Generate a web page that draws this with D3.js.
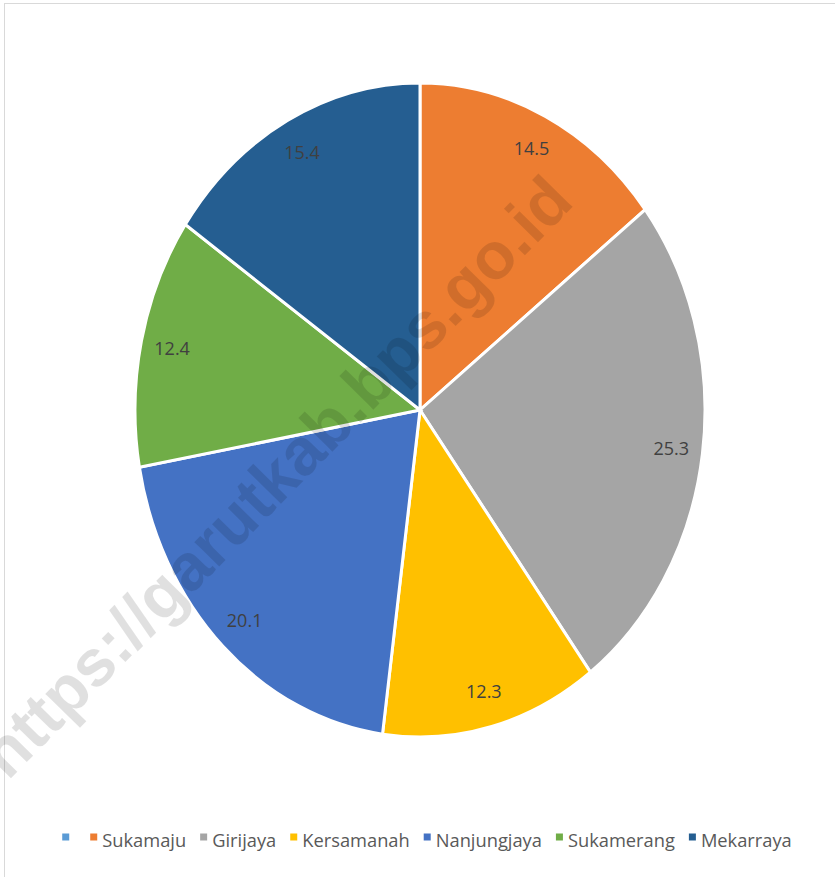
<!DOCTYPE html>
<html>
<head>
<meta charset="utf-8">
<script src="https://cdn.jsdelivr.net/npm/d3@7"></script>
<style>
  body { margin: 0; background: #fff; }
  text { font-family: 'Open Sans', 'Noto Sans', sans-serif; }
</style>
</head>
<body>
<script>
const w = 835
const h = 877

const categories = ['Sukamaju', 'Girijaya', 'Kersamanah', 'Nanjungjaya', 'Sukamerang', 'Mekarraya']
const values = [14.5, 25.3, 12.3, 20.1, 12.4, 15.4]
const colors = ['#ED7D31', '#A5A5A5', '#FFC000', '#4472C4', '#70AD47', '#255E91']

// legend has an empty first entry in the original
const legendLabels = [''].concat(categories)
const legendColors = ['#5B9BD5'].concat(colors)

const cx = 420
const cy = 410
const rx = 285
const ry = 327

const svg = d3.select('body').append('svg')
    .attr('width', w)
    .attr('height', h)

// chart frame
svg.append('rect')
    .attr('x', 4.5)
    .attr('y', 3.5)
    .attr('width', w + 10)
    .attr('height', h + 10)
    .style('fill', 'none')
    .style('stroke', '#d9d9d9')
    .style('stroke-width', 1)

const data = categories.map(function (c, i) {
    return {name: c, value: values[i], color: colors[i]}
})

const pie = d3.pie()
    .sort(null)
    .value(function (d) {return d.value})

const arc = d3.arc()
    .innerRadius(0)
    .outerRadius(rx)

const arcs = pie(data)

const pieG = svg.append('g')
    .attr('transform', 'translate(' + cx + ',' + cy + ') scale(1,' + (ry / rx) + ')')

pieG.selectAll('path')
    .data(arcs)
    .enter()
    .append('path')
    .attr('d', arc)
    .style('fill', function (d) {return d.data.color})
    .style('stroke', '#fff')
    .style('stroke-width', 3)
    .attr('vector-effect', 'non-scaling-stroke')

const labelArc = d3.arc()
    .innerRadius(rx * 0.89)
    .outerRadius(rx * 0.89)

svg.append('g')
    .selectAll('text')
    .data(arcs)
    .enter()
    .append('text')
    .attr('x', function (d) {return cx + labelArc.centroid(d)[0]})
    .attr('y', function (d) {return cy + labelArc.centroid(d)[1] * ry / rx})
    .attr('dy', '0.35em')
    .attr('text-anchor', 'middle')
    .style('font-size', '18px')
    .style('fill', '#404040')
    .text(function (d) {return d.data.value.toFixed(1)})

// watermark
svg.append('text')
    .attr('transform', 'translate(279,480) rotate(-45.5)')
    .attr('text-anchor', 'middle')
    .attr('dy', 18)
    .style('font-family', "'Liberation Sans', Arial, sans-serif")
    .style('font-weight', 'bold')
    .style('font-size', '66px')
    .style('fill', '#000')
    .style('fill-opacity', 0.12)
    .text('https://garutkab.bps.go.id')

// legend
const legend = svg.append('g')
let lx = 0
legendLabels.forEach(function (label, i) {
    legend.append('rect')
        .attr('x', lx)
        .attr('y', -7.5)
        .attr('width', 7)
        .attr('height', 7)
        .style('fill', legendColors[i])
    lx += 7
    if (label === '') {
        lx += 21
        return
    }
    const t = legend.append('text')
        .attr('x', lx + 5)
        .attr('y', 0)
        .attr('dy', '0.3em')
        .style('font-size', '18.3px')
        .style('fill', '#595959')
        .text(label)
    lx += 5 + t.node().getComputedTextLength() + 14
})
lx -= 14
legend.attr('transform', 'translate(' + (427 - lx / 2) + ',841)')
</script>
</body>
</html>
